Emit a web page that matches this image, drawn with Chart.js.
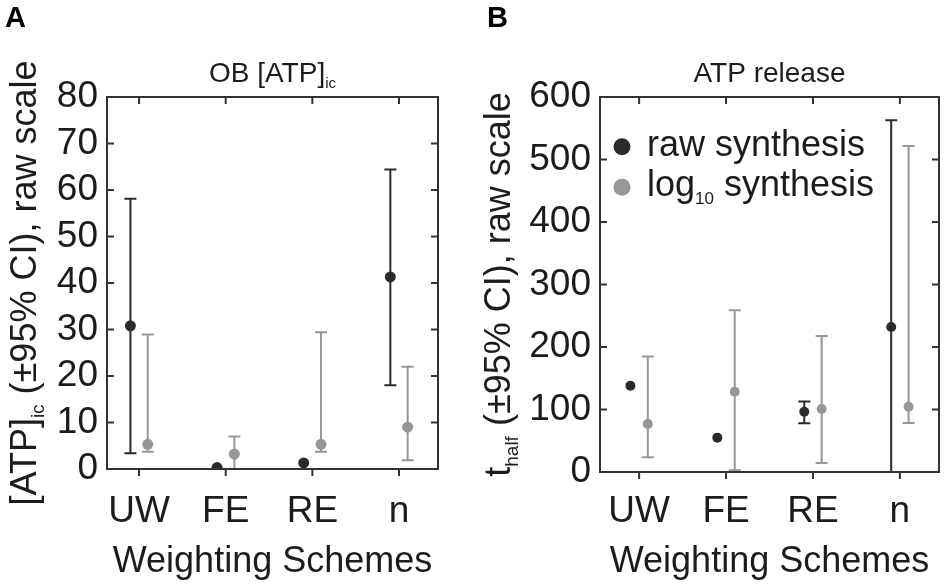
<!DOCTYPE html>
<html><head><meta charset="utf-8">
<script src="https://cdn.jsdelivr.net/npm/chart.js@4/dist/chart.umd.min.js"></script>
<style>
html,body{margin:0;padding:0;background:#fff;}
#wrap{position:relative;width:945px;height:585px;overflow:hidden;}
canvas{position:absolute;top:0;}
</style></head><body>
<div id="wrap">
<canvas id="cA" width="470" height="585" style="left:0;width:470px;height:585px"></canvas>
<canvas id="cB" width="475" height="585" style="left:470px;width:475px;height:585px"></canvas>
</div>
<script>
// ---------- data ----------
const categories = ['UW', 'FE', 'RE', 'n'];
const xTitle = 'Weighting Schemes';

// Panel A: OB [ATP]ic
const yTicksA = [0, 10, 20, 30, 40, 50, 60, 70, 80];
const rawA    = [30.8, 0.3, 1.3, 41.3];
const rawA_lo = [3.4, null, null, 18.0];
const rawA_hi = [58.1, null, null, 64.4];
const logA    = [5.3, 3.2, 5.3, 9.0];
const logA_lo = [3.7, -1, 3.7, 1.9];
const logA_hi = [28.9, 7.0, 29.4, 22.0];

// Panel B: ATP release
const yTicksB = [0, 100, 200, 300, 400, 500, 600];
const rawB    = [138, 55, 96.5, 232];
const rawB_lo = [null, null, 78, -40];
const rawB_hi = [null, null, 113, 563];
const logB    = [76.8, 128.5, 100.8, 104.5];
const logB_lo = [23.5, 2.7, 14.4, 78.4];
const logB_hi = [185, 258.7, 217.6, 521.6];

const seriesNames = [[['raw synthesis', 0]], [['log', 0], ['10', 1], [' synthesis', 0]]];

// ---------- style ----------
const FONT = "'Liberation Sans', Arial, Helvetica, sans-serif";
const DARK = '#2b2b2b';
const GREY = '#979797';
const TXT = '#1c1c1c';
const AXIS = '#333333';
const OFF = 0.1;

function drawRich(ctx, parts, x, y, size, subSize, align) {
  let w = 0;
  parts.forEach(([t, s]) => {
    ctx.font = (s ? subSize : size) + 'px ' + FONT;
    w += ctx.measureText(t).width;
  });
  let cx = align === 'center' ? x - w / 2 : x;
  ctx.textBaseline = 'alphabetic';
  ctx.textAlign = 'left';
  parts.forEach(([t, s]) => {
    ctx.font = (s ? subSize : size) + 'px ' + FONT;
    ctx.fillText(t, cx, y + (s ? size * 0.22 : 0));
    cx += ctx.measureText(t).width;
  });
}

const decor = {
  id: 'decor',
  beforeDatasetsDraw(chart, args, o) {
    const ctx = chart.ctx, xs = chart.scales.x, ys = chart.scales.y, ca = chart.chartArea;
    ctx.save();
    ctx.beginPath();
    ctx.rect(ca.left, ca.top, ca.right - ca.left, ca.bottom - ca.top);
    ctx.clip();
    o.errors.forEach(e => {
      ctx.strokeStyle = e.color;
      ctx.lineWidth = 2;
      e.lo.forEach((lo, i) => {
        const hi = e.hi[i];
        if (lo === null || hi === null) return;
        const px = xs.getPixelForValue(i + 1 + e.off);
        const pl = ys.getPixelForValue(lo), ph = ys.getPixelForValue(hi);
        ctx.beginPath();
        ctx.moveTo(px, pl); ctx.lineTo(px, ph);
        ctx.moveTo(px - 6, pl); ctx.lineTo(px + 6, pl);
        ctx.moveTo(px - 6, ph); ctx.lineTo(px + 6, ph);
        ctx.stroke();
      });
    });
    ctx.restore();
  },
  afterDraw(chart, args, o) {
    const ctx = chart.ctx, xs = chart.scales.x, ys = chart.scales.y, ca = chart.chartArea;
    ctx.save();
    // box
    ctx.strokeStyle = AXIS; ctx.lineWidth = 2;
    ctx.strokeRect(ca.left, ca.top, ca.right - ca.left, ca.bottom - ca.top);
    ctx.beginPath();
    xs.ticks.forEach(t => {
      const px = xs.getPixelForValue(t.value);
      ctx.moveTo(px, ca.bottom); ctx.lineTo(px, ca.bottom + 7);
      ctx.moveTo(px, ca.top); ctx.lineTo(px, ca.top + 7);
    });
    ys.ticks.forEach(t => {
      const py = ys.getPixelForValue(t.value);
      ctx.moveTo(ca.left, py); ctx.lineTo(ca.left + 7, py);
      ctx.moveTo(ca.right, py); ctx.lineTo(ca.right - 7, py);
    });
    ctx.stroke();
    // panel letter
    ctx.fillStyle = '#000';
    ctx.font = 'bold 29px ' + FONT;
    ctx.textBaseline = 'alphabetic'; ctx.textAlign = 'left';
    ctx.fillText(o.letter, o.letterX, 27);
    // title
    ctx.fillStyle = TXT;
    drawRich(ctx, o.title, (ca.left + ca.right) / 2, 82, 28, 15, 'center');
    // y title
    ctx.save();
    ctx.translate(o.yTitleX, (ca.top + ca.bottom) / 2);
    ctx.rotate(-Math.PI / 2);
    drawRich(ctx, o.yTitle, 0, 0, 36, 19, 'center');
    ctx.restore();
    // legend
    if (o.legend) {
      const items = [[DARK, seriesNames[0]], [GREY, seriesNames[1]]];
      items.forEach(([c, parts], k) => {
        const cy = 146.7 + k * 40.6;
        ctx.fillStyle = c;
        ctx.beginPath(); ctx.arc(ca.left + 22, cy, 8.5, 0, Math.PI * 2); ctx.fill();
        ctx.fillStyle = TXT;
        drawRich(ctx, parts, ca.left + 47, cy + 9, 36, 17, 'left');
      });
    }
    ctx.restore();
  }
};

function makeChart(id, c) {
  return new Chart(document.getElementById(id), {
    type: 'scatter',
    data: {
      datasets: [
        { label: 'raw synthesis', data: c.raw.map((v, i) => ({ x: i + 1 - OFF, y: v })),
          backgroundColor: DARK, borderColor: DARK, borderWidth: 0, pointRadius: c.r, pointHoverRadius: c.r },
        { label: 'log10 synthesis', data: c.log.map((v, i) => ({ x: i + 1 + OFF, y: v })),
          backgroundColor: GREY, borderColor: GREY, borderWidth: 0, pointRadius: c.r, pointHoverRadius: c.r }
      ]
    },
    options: {
      responsive: false, animation: false,
      layout: { padding: { top: c.top, right: c.padRight, left: 0, bottom: 0 } },
      plugins: {
        legend: { display: false }, tooltip: { enabled: false }, title: { display: false },
        decor: {
          letter: c.letter, letterX: c.letterX, title: c.title, yTitle: c.yTitle, yTitleX: c.yTitleX,
          legend: c.legend,
          errors: [
            { lo: c.raw_lo, hi: c.raw_hi, off: -OFF, color: DARK },
            { lo: c.log_lo, hi: c.log_hi, off: OFF, color: GREY }
          ]
        }
      },
      scales: {
        x: {
          type: 'linear', min: c.xmin, max: c.xmax,
          afterBuildTicks: s => { s.ticks = categories.map((n, i) => ({ value: i + 1 })); },
          afterFit: s => { s.height = c.xh; },
          grid: { display: false, drawTicks: false }, border: { display: false },
          ticks: { autoSkip: false, maxRotation: 0, padding: c.xPad, color: TXT,
                   font: { family: FONT, size: 37 }, callback: v => categories[v - 1] },
          title: { display: true, text: xTitle, color: TXT, font: { family: FONT, size: 36 },
                   padding: { top: 0, bottom: 1 } }
        },
        y: {
          min: 0, max: c.yTicks[c.yTicks.length - 1],
          afterBuildTicks: s => { s.ticks = c.yTicks.map(v => ({ value: v })); },
          afterFit: s => { s.width = c.yw; },
          grid: { display: false, drawTicks: false }, border: { display: false },
          ticks: { autoSkip: false, padding: 9, color: TXT, font: { family: FONT, size: 37 } }
        }
      }
    },
    plugins: [decor]
  });
}

makeChart('cA', {
  raw: rawA, raw_lo: rawA_lo, raw_hi: rawA_hi, log: logA, log_lo: logA_lo, log_hi: logA_hi,
  yTicks: yTicksA, xmin: 0.63, xmax: 4.45, top: 97, padRight: 32, yw: 107, xh: 116, xPad: 21, r: 5.5,
  letter: 'A', letterX: 5, title: [['OB [ATP]', 0], ['ic', 1]],
  yTitle: [['[ATP]', 0], ['ic', 1], [' (\u00b195% CI), raw scale', 0]], yTitleX: 36, legend: false
});
makeChart('cB', {
  raw: rawB, raw_lo: rawB_lo, raw_hi: rawB_hi, log: logB, log_lo: logB_lo, log_hi: logB_hi,
  yTicks: yTicksB, xmin: 0.55, xmax: 4.45, top: 97, padRight: 6, yw: 130, xh: 113, xPad: 18, r: 5,
  letter: 'B', letterX: 17, title: [['ATP release', 0]],
  yTitle: [['t', 0], ['half', 1], [' (\u00b195% CI), raw scale', 0]], yTitleX: 40, legend: true
});
</script>
</body></html>
